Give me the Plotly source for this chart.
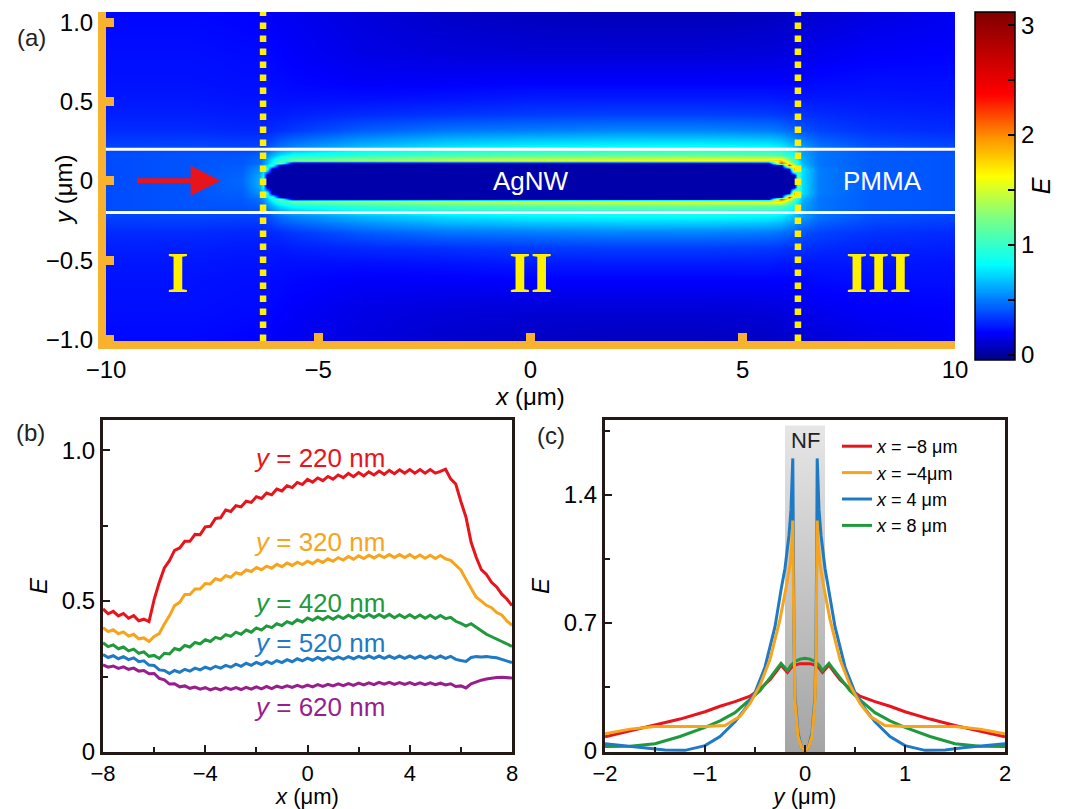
import plotly.graph_objects as go

# ---------------- panel (a): |E| map ----------------
MAP_X = [-10, -8, -6.8, -6.4, -6.3, -6.2, -6.1, -5.9, -5.6, -4, -2, 0, 2, 4,
         5.6, 5.9, 6.1, 6.2, 6.3, 6.4, 6.8, 8, 10]
MAP_Y = [-1.05, -0.8, -0.62, -0.52, -0.42, -0.32, -0.22, -0.16, -0.13, -0.115, -0.1, -0.075, -0.04,
         0, 0.04, 0.075, 0.1, 0.115, 0.13, 0.16, 0.22, 0.32, 0.42, 0.52, 0.62, 0.8, 1.05]
# rows for y = 0, 0.04, 0.075, 0.1, 0.115, 0.13, 0.16, 0.22, 0.32, 0.42, 0.52, 0.62, 0.8, 1.05
E_ROW_000 = [0.38, 0.40, 0.45, 0.62, 0.85, 0.03, 0.03, 0.03, 0.03, 0.03, 0.03, 0.03, 0.03, 0.03, 0.03, 0.03, 0.03, 0.03, 1.00, 0.75, 0.50, 0.42, 0.40]
E_ROW_004 = [0.38, 0.40, 0.44, 0.60, 0.80, 0.03, 0.03, 0.03, 0.03, 0.03, 0.03, 0.03, 0.03, 0.03, 0.03, 0.03, 0.03, 0.03, 1.10, 0.75, 0.50, 0.42, 0.40]
E_ROW_0075 = [0.38, 0.40, 0.43, 0.55, 0.70, 0.95, 0.03, 0.03, 0.03, 0.03, 0.03, 0.03, 0.03, 0.03, 0.03, 0.03, 0.03, 2.00, 1.10, 0.75, 0.50, 0.42, 0.40]
E_ROW_010 = [0.38, 0.40, 0.42, 0.50, 0.60, 0.75, 1.05, 0.03, 0.03, 0.03, 0.03, 0.03, 0.03, 0.03, 0.03, 0.03, 2.30, 1.45, 0.95, 0.68, 0.48, 0.42, 0.40]
E_ROW_0115 = [0.38, 0.40, 0.41, 0.46, 0.55, 0.65, 0.85, 1.15, 0.03, 0.03, 0.03, 0.03, 0.03, 0.03, 0.03, 2.20, 1.55, 1.15, 0.85, 0.65, 0.48, 0.42, 0.40]
E_ROW_013 = [0.38, 0.40, 0.41, 0.46, 0.53, 0.63, 0.78, 1.00, 1.20, 1.30, 1.42, 1.52, 1.58, 1.62, 1.68, 1.75, 1.30, 1.00, 0.78, 0.63, 0.48, 0.42, 0.40]
E_ROW_016 = [0.38, 0.40, 0.40, 0.42, 0.46, 0.54, 0.63, 0.75, 0.85, 0.97, 1.06, 1.10, 1.13, 1.16, 1.13, 1.08, 0.95, 0.84, 0.70, 0.60, 0.48, 0.42, 0.40]
E_ROW_022 = [0.36, 0.37, 0.36, 0.36, 0.36, 0.38, 0.42, 0.47, 0.52, 0.65, 0.75, 0.80, 0.82, 0.83, 0.81, 0.77, 0.71, 0.67, 0.62, 0.58, 0.48, 0.40, 0.37]
E_ROW_032 = [0.30, 0.30, 0.29, 0.29, 0.29, 0.29, 0.30, 0.31, 0.33, 0.42, 0.48, 0.50, 0.52, 0.52, 0.50, 0.48, 0.45, 0.43, 0.41, 0.40, 0.36, 0.32, 0.30]
E_ROW_042 = [0.27, 0.27, 0.26, 0.26, 0.26, 0.26, 0.26, 0.26, 0.27, 0.30, 0.32, 0.34, 0.35, 0.35, 0.34, 0.33, 0.32, 0.32, 0.32, 0.32, 0.30, 0.28, 0.27]
E_ROW_052 = [0.25, 0.25, 0.24, 0.24, 0.24, 0.24, 0.24, 0.23, 0.23, 0.23, 0.24, 0.26, 0.26, 0.26, 0.26, 0.25, 0.25, 0.25, 0.25, 0.25, 0.25, 0.25, 0.24]
E_ROW_062 = [0.24, 0.24, 0.23, 0.23, 0.23, 0.23, 0.22, 0.22, 0.21, 0.19, 0.19, 0.20, 0.20, 0.20, 0.20, 0.20, 0.20, 0.20, 0.20, 0.21, 0.22, 0.23, 0.23]
E_ROW_080 = [0.23, 0.23, 0.22, 0.22, 0.22, 0.21, 0.21, 0.20, 0.19, 0.15, 0.13, 0.12, 0.12, 0.12, 0.13, 0.135, 0.14, 0.145, 0.15, 0.155, 0.17, 0.19, 0.20]
E_ROW_105 = [0.21, 0.21, 0.20, 0.19, 0.19, 0.185, 0.18, 0.175, 0.17, 0.13, 0.09, 0.07, 0.06, 0.06, 0.07, 0.08, 0.085, 0.09, 0.09, 0.095, 0.11, 0.14, 0.17]
UPPER_ROWS = [E_ROW_000, E_ROW_004, E_ROW_0075, E_ROW_010, E_ROW_0115, E_ROW_013, E_ROW_016,
              E_ROW_022, E_ROW_032, E_ROW_042, E_ROW_052, E_ROW_062, E_ROW_080, E_ROW_105]
MAP_E = list(reversed(UPPER_ROWS[1:])) + UPPER_ROWS   # field is mirror-symmetric about the wire axis

REGION_BOUNDS = [-6.3, 6.3]       # dotted yellow lines (um)
PMMA_EDGES = [-0.2, 0.2]          # white lines (um)
REGION_LABELS = ["I", "II", "III"]
REGION_LABEL_X = [-8.3, 0, 8.2]

# ---------------- panel (b): E(x) at fixed y ----------------
B_X = [-8.0, -7.8, -7.6, -7.4, -7.2, -7.0, -6.8, -6.6, -6.4, -6.2, -6.0, -5.8, -5.6, -5.4, -5.2, -5.0,
       -4.8, -4.6, -4.4, -4.2, -4.0, -3.8, -3.6, -3.4, -3.2, -3.0, -2.8, -2.6, -2.4, -2.2, -2.0, -1.8,
       -1.6, -1.4, -1.2, -1.0, -0.8, -0.6, -0.4, -0.2, 0.0, 0.2, 0.4, 0.6, 0.8, 1.0, 1.2, 1.4, 1.6,
       1.8, 2.0, 2.2, 2.4, 2.6, 2.8, 3.0, 3.2, 3.4, 3.6, 3.8, 4.0, 4.2, 4.4, 4.6, 4.8, 5.0, 5.2, 5.4,
       5.6, 5.8, 6.0, 6.2, 6.4, 6.6, 6.8, 7.0, 7.2, 7.4, 7.6, 7.8, 8.0]
E_Y220 = [0.474, 0.458, 0.466, 0.451, 0.459, 0.443, 0.452, 0.435, 0.44, 0.432,
          0.505, 0.562, 0.61, 0.634, 0.668, 0.676, 0.698, 0.698, 0.721, 0.72,
          0.746, 0.748, 0.774, 0.776, 0.802, 0.797, 0.816, 0.812, 0.831, 0.827,
          0.846, 0.84, 0.858, 0.852, 0.871, 0.865, 0.882, 0.876, 0.893, 0.886,
          0.903, 0.894, 0.908, 0.899, 0.913, 0.904, 0.918, 0.909, 0.923, 0.912,
          0.926, 0.915, 0.928, 0.918, 0.931, 0.92, 0.933, 0.922, 0.935, 0.924,
          0.936, 0.924, 0.936, 0.924, 0.936, 0.924, 0.93, 0.937, 0.905, 0.888,
          0.83, 0.778, 0.695, 0.645, 0.604, 0.588, 0.562, 0.547, 0.523, 0.507,
          0.485]
E_Y320 = [0.412, 0.399, 0.405, 0.392, 0.398, 0.384, 0.39, 0.375, 0.378, 0.366,
          0.383, 0.392, 0.424, 0.451, 0.485, 0.496, 0.522, 0.522, 0.54, 0.54,
          0.558, 0.557, 0.574, 0.569, 0.584, 0.579, 0.594, 0.589, 0.603, 0.598,
          0.611, 0.604, 0.616, 0.609, 0.622, 0.614, 0.626, 0.618, 0.629, 0.621,
          0.632, 0.624, 0.636, 0.628, 0.64, 0.632, 0.644, 0.636, 0.648, 0.639,
          0.65, 0.641, 0.652, 0.643, 0.653, 0.644, 0.654, 0.644, 0.654, 0.644,
          0.654, 0.643, 0.653, 0.642, 0.652, 0.641, 0.651, 0.64, 0.635, 0.618,
          0.603, 0.572, 0.543, 0.513, 0.5, 0.486, 0.478, 0.462, 0.454, 0.434,
          0.42]
E_Y420 = [0.362, 0.349, 0.355, 0.342, 0.348, 0.335, 0.341, 0.327, 0.332, 0.317,
          0.32, 0.31, 0.327, 0.325, 0.343, 0.338, 0.353, 0.348, 0.363, 0.358,
          0.372, 0.366, 0.38, 0.375, 0.389, 0.383, 0.397, 0.39, 0.404, 0.397,
          0.411, 0.404, 0.418, 0.412, 0.425, 0.419, 0.432, 0.425, 0.438, 0.431,
          0.444, 0.436, 0.447, 0.438, 0.449, 0.44, 0.451, 0.442, 0.453, 0.444,
          0.455, 0.446, 0.456, 0.446, 0.456, 0.446, 0.456, 0.445, 0.455, 0.445,
          0.455, 0.444, 0.454, 0.443, 0.453, 0.442, 0.452, 0.442, 0.446, 0.433,
          0.426, 0.417, 0.425, 0.412, 0.402, 0.39, 0.382, 0.374, 0.366, 0.358,
          0.35]
E_Y520 = [0.323, 0.313, 0.319, 0.309, 0.316, 0.306, 0.312, 0.299, 0.302, 0.288,
          0.287, 0.272, 0.27, 0.26, 0.27, 0.264, 0.274, 0.268, 0.278, 0.272,
          0.281, 0.275, 0.284, 0.278, 0.287, 0.281, 0.291, 0.284, 0.294, 0.287,
          0.297, 0.29, 0.3, 0.293, 0.303, 0.296, 0.306, 0.299, 0.309, 0.302,
          0.311, 0.304, 0.313, 0.305, 0.314, 0.307, 0.315, 0.308, 0.316, 0.309,
          0.317, 0.31, 0.318, 0.31, 0.318, 0.31, 0.318, 0.31, 0.318, 0.31,
          0.318, 0.31, 0.318, 0.31, 0.318, 0.31, 0.318, 0.31, 0.317, 0.307,
          0.303, 0.3, 0.313, 0.316, 0.315, 0.316, 0.314, 0.312, 0.307, 0.301,
          0.296]
E_Y620 = [0.289, 0.281, 0.285, 0.277, 0.282, 0.274, 0.278, 0.268, 0.27, 0.259,
          0.26, 0.244, 0.239, 0.225, 0.226, 0.216, 0.219, 0.211, 0.215, 0.208,
          0.213, 0.206, 0.212, 0.206, 0.213, 0.207, 0.213, 0.207, 0.214, 0.208,
          0.216, 0.209, 0.217, 0.21, 0.218, 0.213, 0.219, 0.214, 0.221, 0.215,
          0.222, 0.216, 0.223, 0.217, 0.224, 0.219, 0.226, 0.22, 0.227, 0.221,
          0.228, 0.222, 0.229, 0.223, 0.231, 0.225, 0.231, 0.224, 0.23, 0.224,
          0.23, 0.223, 0.229, 0.223, 0.229, 0.223, 0.228, 0.222, 0.226, 0.217,
          0.219, 0.212, 0.226, 0.233, 0.238, 0.242, 0.245, 0.247, 0.248, 0.247,
          0.245]
B_SERIES = [("220", E_Y220), ("320", E_Y320), ("420", E_Y420), ("520", E_Y520), ("620", E_Y620)]
B_LABEL_Y = [0.975, 0.695, 0.495, 0.36, 0.148]

# ---------------- panel (c): E(y) at fixed x ----------------
C_Y_RG = [-2.0, -1.75, -1.5, -1.25, -1.0, -0.85, -0.7, -0.55, -0.45, -0.35, -0.28, -0.24, -0.2, -0.175,
          -0.14, -0.1, -0.05, 0.0, 0.05, 0.1, 0.14, 0.175, 0.2, 0.24, 0.28, 0.35, 0.45, 0.55, 0.7, 0.85,
          1.0, 1.25, 1.5, 1.75, 2.0]
E_XM8 = [0.078, 0.11, 0.14, 0.175, 0.215, 0.245, 0.27, 0.30, 0.34, 0.39, 0.44, 0.47, 0.445, 0.43,
         0.455, 0.47, 0.478, 0.48, 0.478, 0.47, 0.455, 0.43, 0.445, 0.47, 0.44, 0.39, 0.34, 0.30, 0.27,
         0.245, 0.215, 0.175, 0.14, 0.11, 0.078]
E_XP8 = [0.025, 0.027, 0.04, 0.08, 0.13, 0.165, 0.21, 0.28, 0.33, 0.40, 0.45, 0.48, 0.455, 0.44,
         0.47, 0.49, 0.503, 0.507, 0.503, 0.49, 0.47, 0.44, 0.455, 0.48, 0.45, 0.40, 0.33, 0.28, 0.21,
         0.165, 0.13, 0.08, 0.04, 0.027, 0.025]
C_Y_O = [-2.0, -1.75, -1.5, -1.25, -1.0, -0.8, -0.65, -0.55, -0.45, -0.35, -0.25, -0.18, -0.15, -0.13,
         -0.122, -0.117, -0.11, -0.1, -0.07, -0.035, 0.0, 0.035, 0.07, 0.1, 0.11, 0.117, 0.122, 0.13,
         0.15, 0.18, 0.25, 0.35, 0.45, 0.55, 0.65, 0.8, 1.0, 1.25, 1.5, 1.75, 2.0]
E_XM4 = [0.095, 0.12, 0.135, 0.135, 0.135, 0.14, 0.19, 0.26, 0.36, 0.50, 0.72, 0.92, 1.02, 1.15,
         1.26, 0.90, 0.50, 0.27, 0.08, 0.02, 0.0, 0.02, 0.08, 0.27, 0.50, 0.90, 1.26, 1.15,
         1.02, 0.92, 0.72, 0.50, 0.36, 0.26, 0.19, 0.14, 0.135, 0.135, 0.135, 0.12, 0.095]
C_Y_B = [-2.0, -1.8, -1.6, -1.4, -1.2, -1.0, -0.85, -0.7, -0.6, -0.5, -0.4, -0.3, -0.24, -0.2, -0.16,
         -0.14, -0.122, -0.117, -0.11, -0.1, -0.07, -0.035, 0.0, 0.035, 0.07, 0.1, 0.11, 0.117, 0.122,
         0.14, 0.16, 0.2, 0.24, 0.3, 0.4, 0.5, 0.6, 0.7, 0.85, 1.0, 1.2, 1.4, 1.6, 1.8, 2.0]
E_XP4 = [0.04, 0.03, 0.02, 0.006, 0.004, 0.03, 0.08, 0.16, 0.23, 0.32, 0.46, 0.68, 0.88, 1.0, 1.18,
         1.32, 1.6, 1.1, 0.6, 0.3, 0.1, 0.02, 0.0, 0.02, 0.1, 0.3, 0.6, 1.1, 1.6,
         1.32, 1.18, 1.0, 0.88, 0.68, 0.46, 0.32, 0.23, 0.16, 0.08, 0.03, 0.004, 0.006, 0.02, 0.03, 0.04]
NF_REGION = [-0.2, 0.2]

# ---------------- styling ----------------
FONT = "Arial, Liberation Sans, Helvetica, sans-serif"
SERIF = "Times New Roman, Liberation Serif, serif"
ORANGE_AX = "#F9B130"
FRAME = "#231815"
RED, ORANGE, GREEN, BLUE, PURPLE = "#E8141C", "#F7A41D", "#1E9A3C", "#1F7AC6", "#981E8E"
B_COLORS = [RED, ORANGE, GREEN, BLUE, PURPLE]
JET = [[0.0, "rgb(0,0,130)"], [0.078, "rgb(0,0,255)"], [0.274, "rgb(0,255,255)"],
       [0.411, "rgb(128,255,128)"], [0.528, "rgb(255,255,0)"], [0.645, "rgb(255,140,0)"],
       [0.763, "rgb(255,0,0)"], [1.0, "rgb(128,0,0)"]]
# the page body has an 8 px margin: the figure is placed at (8, 8) in the window
OFF = 8
W, H = 1071 - OFF, 809 - OFF


def px_x(p):
    return (p - OFF) / W


def px_y(p):
    return 1 - (p - OFF) / H


fig = go.Figure()

# (a) heat map
fig.add_trace(go.Heatmap(
    x=MAP_X, y=MAP_Y, z=MAP_E, zsmooth="best", colorscale=JET, zmin=-0.05, zmax=3.12,
    hoverinfo="skip", xaxis="x", yaxis="y",
    colorbar=dict(x=px_x(975), xanchor="left", xref="paper", y=px_y(12), yanchor="top",
                  len=(360 - 12) / H, lenmode="fraction", thickness=40, thicknessmode="pixels",
                  xpad=0, ypad=0, outlinewidth=1.5, outlinecolor="black",
                  tickvals=[0, 0.5, 1, 1.5, 2, 2.5, 3], ticktext=["0", "", "1", "", "2", "", "3"],
                  ticks="inside", ticklen=7, tickwidth=1.5, tickcolor="black",
                  ticklabeloverflow="allow",
                  tickfont=dict(family=FONT, size=24, color="black"),
                  title=dict(text="<i>E</i>", side="right", font=dict(family=FONT, size=25, color="black")))))

# (b) lines
for (lab, vals), col in zip(B_SERIES, B_COLORS):
    fig.add_trace(go.Scatter(x=B_X, y=vals, mode="lines", line=dict(color=col, width=3),
                             xaxis="x2", yaxis="y2", showlegend=False, hoverinfo="skip"))

# (c) NF band + lines
Y3_RANGE = [-0.005, 1.81]
fig.add_trace(go.Scatter(
    x=[NF_REGION[0], NF_REGION[1], NF_REGION[1], NF_REGION[0], NF_REGION[0]],
    y=[Y3_RANGE[0], Y3_RANGE[0], 1.78, 1.78, Y3_RANGE[0]],
    mode="none", fill="toself",
    fillgradient=dict(type="vertical", colorscale=[[0, "#a4a4a4"], [1, "#e6e6e6"]]),
    xaxis="x3", yaxis="y3", showlegend=False, hoverinfo="skip"))
C_SERIES = [("<i>x</i> = −8 μm", C_Y_RG, E_XM8, RED, 1),
            ("<i>x</i> = 8 μm", C_Y_RG, E_XP8, GREEN, 4),
            ("<i>x</i> = 4 μm", C_Y_B, E_XP4, BLUE, 3),
            ("<i>x</i> = −4μm", C_Y_O, E_XM4, ORANGE, 2)]
for name, yy, ee, col, rank in C_SERIES:
    fig.add_trace(go.Scatter(x=yy, y=ee, mode="lines", name=name, line=dict(color=col, width=3),
                             legendrank=rank, xaxis="x3", yaxis="y3", hoverinfo="skip"))

tickfont = dict(family=FONT, size=24, color="black")
tickfont_b = dict(family=FONT, size=22, color="black")
titlefont = dict(family=FONT, size=24, color="black")
titlefont_b = dict(family=FONT, size=22, color="black")

axis_a = dict(showline=True, linecolor=ORANGE_AX, linewidth=8, mirror=False, ticks="inside",
              ticklen=8, tickwidth=9, tickcolor=ORANGE_AX, showgrid=False, zeroline=False,
              tickfont=tickfont, ticklabeloverflow="allow")
frame = dict(showline=True, linecolor=FRAME, linewidth=3, mirror=True, ticks="inside", ticklen=7,
             tickwidth=2, tickcolor=FRAME, showgrid=False, zeroline=False, tickfont=tickfont,
             ticklabeloverflow="allow")

fig.update_layout(
    width=W, height=H, autosize=False, margin=dict(l=0, r=0, t=0, b=0),
    paper_bgcolor="white", plot_bgcolor="white", template="none",
    font=dict(family=FONT, color="black"),
    xaxis=dict(axis_a, domain=[px_x(106), px_x(955)], range=[-10, 10], anchor="y",
               tickvals=[-10, -5, 0, 5, 10],
               title=dict(text="<i>x</i> (μm)", font=titlefont, standoff=2)),
    yaxis=dict(axis_a, domain=[px_y(341), px_y(12)], range=[-1.01, 1.065], anchor="x",
               tickvals=[-1, -0.5, 0, 0.5, 1], ticktext=["−1.0", "−0.5", "0", "0.5", "1.0"]),
    xaxis2=dict(frame, domain=[px_x(103), px_x(512)], range=[-8, 8], anchor="y2", dtick=4, tick0=0,
                tickfont=tickfont_b,
                minor=dict(dtick=2, tick0=0, ticks="inside", ticklen=5, tickwidth=2, tickcolor=FRAME),
                title=dict(text="<i>x</i> (μm)", font=titlefont_b, standoff=3)),
    yaxis2=dict(frame, domain=[px_y(752), px_y(420)], range=[0, 1.1], anchor="x2",
                tickvals=[0, 0.5, 1.0], ticktext=["0", "0.5", "1.0"],
                minor=dict(dtick=0.25, tick0=0, ticks="inside", ticklen=5, tickwidth=2, tickcolor=FRAME),
                title=dict(text="<i>E</i>", font=titlefont, standoff=8)),
    xaxis3=dict(frame, domain=[px_x(605), px_x(1005)], range=[-2, 2], anchor="y3", dtick=1, tick0=0,
                tickfont=tickfont_b,
                minor=dict(dtick=0.5, tick0=0, ticks="inside", ticklen=5, tickwidth=2, tickcolor=FRAME),
                title=dict(text="<i>y</i> (μm)", font=titlefont_b, standoff=3)),
    yaxis3=dict(frame, domain=[px_y(752), px_y(420)], range=Y3_RANGE, anchor="x3", dtick=0.7, tick0=0,
                minor=dict(dtick=0.35, tick0=0, ticks="inside", ticklen=5, tickwidth=2, tickcolor=FRAME),
                title=dict(text="<i>E</i>", font=titlefont, standoff=8)),
    legend=dict(x=px_x(837), y=px_y(428), xanchor="left", yanchor="top", bgcolor="rgba(0,0,0,0)",
                font=dict(family=FONT, size=18, color="black"), itemwidth=30, tracegroupgap=0),
)

shapes = []
for yv in PMMA_EDGES:
    shapes.append(dict(type="line", xref="x domain", yref="y", x0=0, x1=1, y0=yv, y1=yv,
                       line=dict(color="white", width=3)))
for xv in REGION_BOUNDS:
    shapes.append(dict(type="line", xref="x", yref="y domain", x0=xv, x1=xv, y0=0, y1=1,
                       line=dict(color="#FFF000", width=6.5, dash="dot")))
fig.update_layout(shapes=shapes)

ann = []
ann.append(dict(x=-7.3, y=0, ax=-9.3, ay=0, xref="x", yref="y", axref="x", ayref="y", text="",
                showarrow=True, arrowhead=2, arrowsize=1.2, arrowwidth=5, arrowcolor=RED))
ann.append(dict(x=0, y=0, xref="x", yref="y", text="AgNW", showarrow=False,
                font=dict(family=FONT, size=26, color="white")))
ann.append(dict(x=8.3, y=0, xref="x", yref="y", text="PMMA", showarrow=False,
                font=dict(family=FONT, size=26, color="white")))
for t, xv in zip(REGION_LABELS, REGION_LABEL_X):
    ann.append(dict(x=xv, y=-0.58, xref="x", yref="y", text="<b>%s</b>" % t, showarrow=False,
                    font=dict(family=SERIF, size=56, color="#FFF000")))
ann.append(dict(x=px_x(63), y=px_y(190), xref="paper", yref="paper", text="<i>y</i> (μm)",
                xanchor="center", yanchor="middle", textangle=-90, showarrow=False, font=titlefont))
for (lab, _), col, ly in zip(B_SERIES, B_COLORS, B_LABEL_Y):
    ann.append(dict(x=0.45, y=ly, xref="x2", yref="y2", text="<i>y</i> = %s nm" % lab, showarrow=False,
                    font=dict(family=FONT, size=26, color=col)))
ann.append(dict(x=0, y=1.7, xref="x3", yref="y3", text="NF", showarrow=False,
                font=dict(family=FONT, size=22, color="#222222")))
for t, xp, yp in [("(a)", 31, 38), ("(b)", 30, 433), ("(c)", 551, 435)]:
    ann.append(dict(x=px_x(xp), y=px_y(yp), xref="paper", yref="paper", text=t, showarrow=False,
                    xanchor="center", yanchor="middle",
                    font=dict(family=FONT, size=24, color="#222222")))
fig.update_layout(annotations=ann)

fig.write_html("out.html")
